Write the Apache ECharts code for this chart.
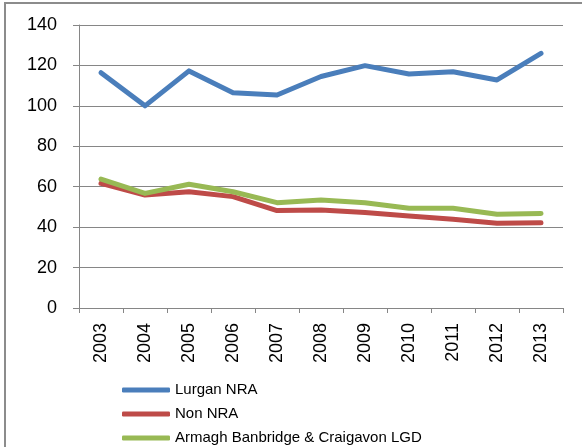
<!DOCTYPE html>
<html>
<head>
<meta charset="utf-8">
<script src="https://cdn.jsdelivr.net/npm/echarts@6/dist/echarts.min.js"></script>
<style>
  html, body { margin: 0; padding: 0; background: #fff; }
  #chart { width: 582px; height: 447px; }
</style>
</head>
<body>
<div id="chart"></div>
<script>
const years = ['2003', '2004', '2005', '2006', '2007', '2008', '2009', '2010', '2011', '2012', '2013']
const lurgan = [116.4, 100, 117.3, 106.5, 105.4, 114.5, 119.9, 115.8, 116.9, 112.8, 126]
const nonNra = [61.7, 55.9, 57.5, 55.1, 48.2, 48.5, 47.3, 45.5, 43.9, 41.9, 42.2]
const lgd = [63.8, 56.7, 61.2, 57.5, 52.1, 53.4, 52.1, 49.3, 49.3, 46.4, 46.8]

const gray = '#868686'
const font = 'Liberation Sans'

const chart = echarts.init(document.getElementById('chart'))

const line = (name, data, color) => ({
  name,
  type: 'line',
  data,
  symbol: 'none',
  smooth: false,
  lineStyle: { color, width: 5, cap: 'round', join: 'round' },
  itemStyle: { color },
  emphasis: { disabled: true }
})

chart.setOption({
  animation: false,
  graphic: [{
    type: 'rect',
    silent: true,
    shape: { x: 5, y: 3, width: 620, height: 500 },
    style: { fill: 'none', stroke: '#8c8c8c', lineWidth: 2 }
  }],
  grid: { left: 79, top: 25, right: 19, bottom: 139 },
  legend: {
    orient: 'vertical',
    left: 122,
    top: 382,
    padding: 0,
    itemWidth: 48,
    itemHeight: 5,
    itemGap: 8,
    icon: 'roundRect',
    textStyle: { fontFamily: font, fontSize: 15, color: '#000', lineHeight: 16 },
    data: ['Lurgan NRA', 'Non NRA', 'Armagh Banbridge & Craigavon LGD']
  },
  xAxis: {
    type: 'category',
    data: years,
    boundaryGap: true,
    axisLine: { lineStyle: { color: gray, width: 1 } },
    axisTick: { show: true, length: 5, interval: 0, lineStyle: { color: gray } },
    axisLabel: { rotate: 90, margin: 15, interval: 0, fontFamily: font, fontSize: 18, color: '#000' }
  },
  yAxis: {
    type: 'value',
    min: 0,
    max: 140,
    interval: 20,
    axisLine: { show: true, lineStyle: { color: gray, width: 1 } },
    axisTick: { show: true, length: 6, lineStyle: { color: gray } },
    splitLine: { lineStyle: { color: gray, width: 1 } },
    axisLabel: { margin: 22, fontFamily: font, fontSize: 18, color: '#000' }
  },
  series: [
    line('Lurgan NRA', lurgan, '#4a7ebb'),
    line('Non NRA', nonNra, '#be4b48'),
    line('Armagh Banbridge & Craigavon LGD', lgd, '#98b954')
  ]
})
</script>
</body>
</html>
